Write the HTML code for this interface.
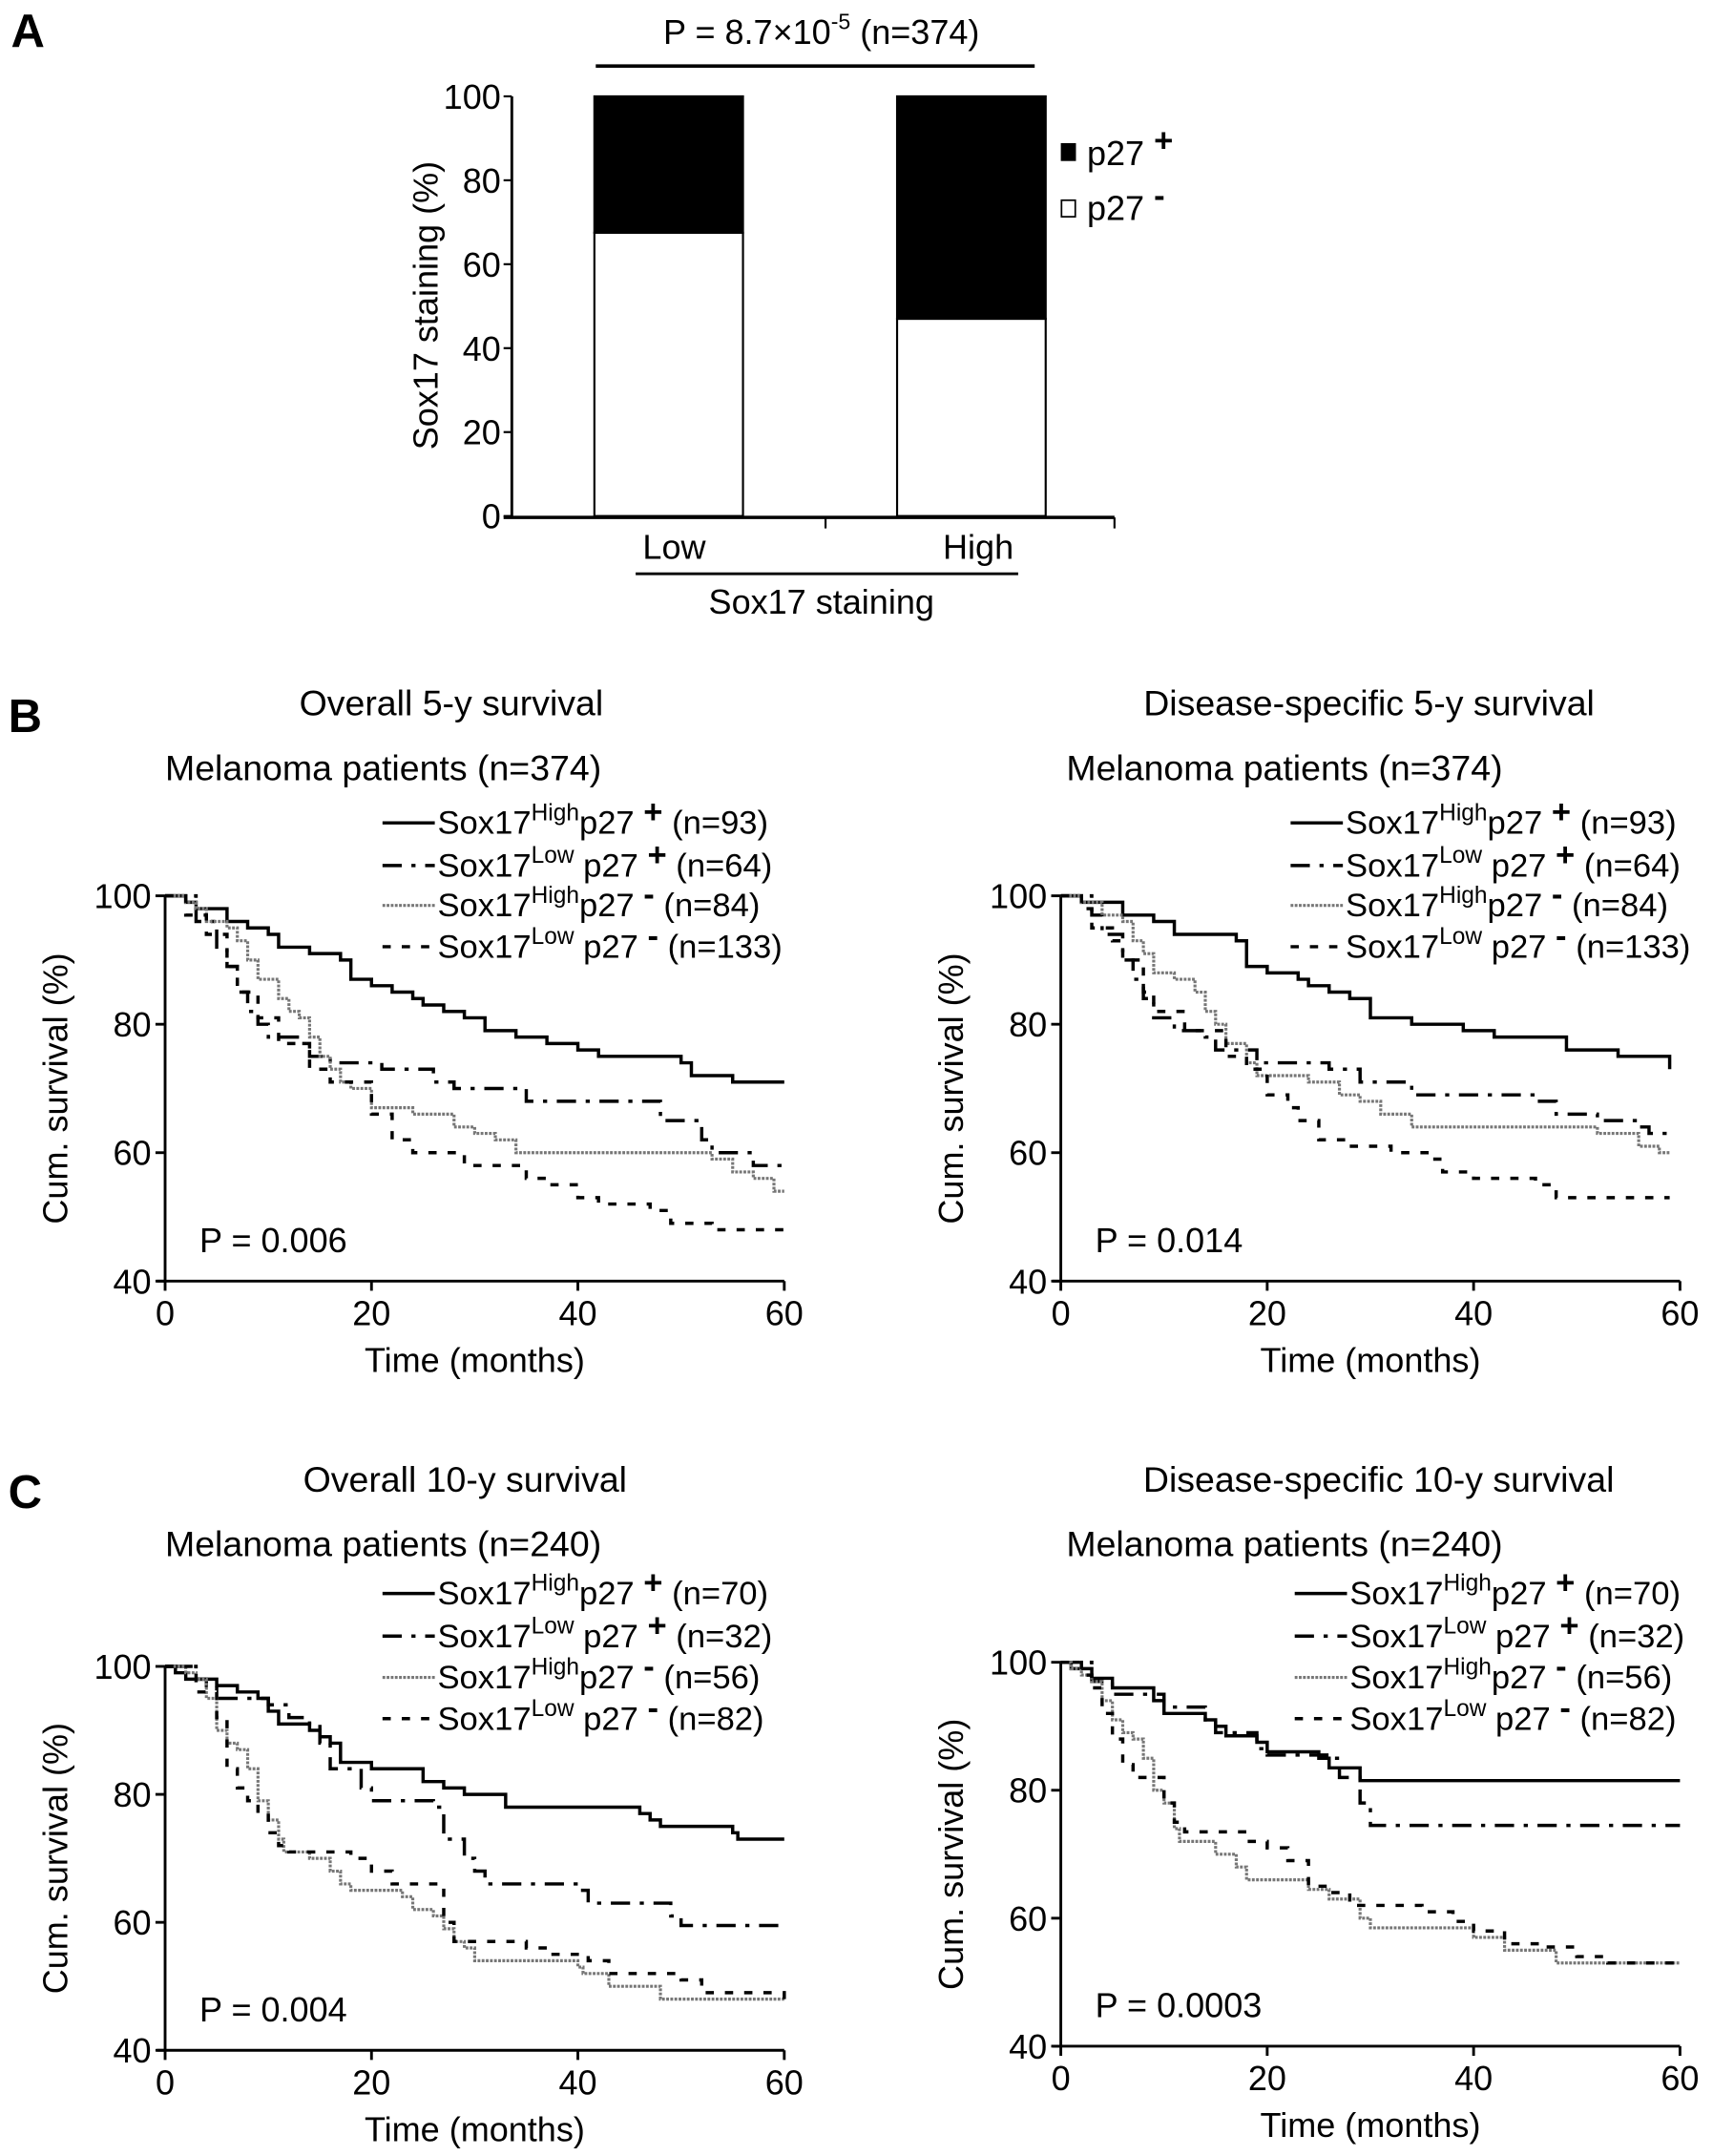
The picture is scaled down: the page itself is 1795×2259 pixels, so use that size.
<!DOCTYPE html>
<html><head><meta charset="utf-8"><style>
html,body{margin:0;padding:0;background:#fff}
svg{display:block;font-family:"Liberation Sans",Arial,sans-serif}
</style></head><body>
<svg id="fig" xmlns="http://www.w3.org/2000/svg" width="1795" height="2259" viewBox="0 0 1245 1566.8">
<rect width="1245" height="1566.8" fill="#fff"/>
</svg>
<script>
// Panel A data
const barCategories = ["Low", "High"];
const p27NegValues = [67.5, 47];
const p27PosValues = [32.5, 53];
const barTicks = [0, 20, 40, 60, 80, 100];

// Kaplan-Meier data: [time, survival]
const bL_highPos = [[0,100],[2,99],[3,98],[6,96],[8,95],[10,94],[11,92],[14,91],[17,90],[18,87],[20,86],[22,85],[24,84],[25,83],[27,82],[29,81],[31,79],[34,78],[37,77],[40,76],[42,75],[50,74],[51,72],[55,71],[60,71]];
const bL_lowPos = [[0,100],[3,96],[5,92],[6,89],[7,85],[8,82],[9,80],[10,78],[13,77],[14,75],[16,74],[20,74],[21,73],[26,71],[28,70],[35,68],[46,68],[48,65],[52,62],[53,60],[57,58],[60,58]];
const bL_highNeg = [[0,100],[2,99],[3,98],[4,96],[6,95],[7,93],[8,90],[9,87],[11,84],[12,82],[13,81],[14,78],[15,75],[16,73],[17,71],[18,70],[20,67],[24,66],[28,64],[30,63],[32,62],[34,60],[53,59],[55,57],[57,56],[59,54],[60,54]];
const bL_lowNeg = [[0,100],[2,97],[4,94],[6,89],[7,85],[9,81],[11,77],[14,73],[16,71],[20,66],[22,62],[24,60],[29,58],[35,56],[37,55],[40,53],[42,52],[47,51],[49,49],[53,48],[60,48]];

const bR_highPos = [[0,100],[2,99],[6,97],[9,96],[11,94],[17,93],[18,89],[20,88],[23,87],[24,86],[26,85],[28,84],[30,81],[34,80],[39,79],[42,78],[49,76],[54,75],[59,73]];
const bR_lowPos = [[0,100],[3,97],[4,94],[6,90],[7,87],[8,84],[9,81],[11,79],[14,78],[15,76],[19,74],[26,73],[29,71],[34,69],[46,68],[48,66],[52,65],[56,64],[57,63],[59,63]];
const bR_highNeg = [[0,100],[2,99],[4,97],[6,96],[7,93],[8,91],[9,88],[11,87],[13,85],[14,82],[15,80],[16,77],[18,74],[19,72],[24,71],[27,69],[29,68],[31,66],[34,64],[52,63],[56,61],[58,60],[59,60]];
const bR_lowNeg = [[0,100],[2,98],[3,95],[5,93],[6,90],[8,85],[9,82],[12,79],[16,75],[18,73],[20,69],[22,67],[23,65],[25,62],[28,61],[32,60],[36,59],[37,57],[40,56],[46,55],[48,53],[59,53]];

const cL_highPos = [[0,100],[1,99],[2,98],[5,97],[7,96],[9,95],[10,93],[11,91],[14,90],[15,89],[16,88],[17,85],[20,84],[25,82],[27,81],[29,80],[33,78],[46,77],[47,76],[48,75],[55,74],[55.5,73],[60,73]];
const cL_lowPos = [[0,100],[3,98],[4,97],[5,95],[10,94],[12,92],[14,91],[15,88],[16,84],[19,81],[20,79],[26,78],[27,73],[29,70],[30,68],[31,66],[40,65],[41,63],[49,61],[50,59.5],[60,59.5]];
const cL_highNeg = [[0,100],[2,99],[3,98],[4,95],[5,90],[6,88],[7,87],[8,84],[9,79],[10,76],[11,73],[11.5,71],[14,70],[16,68],[17,66],[18,65],[23,64],[24,62],[26,61],[27,59],[28,57],[29,56],[30,54],[40,53],[40.5,52],[43,50],[48,48],[60,48]];
const cL_lowNeg = [[0,100],[3,96],[5,92],[6,84],[7,81],[8,79],[9,77],[10,74],[11,72],[12,71],[18,70],[20,68],[22,66],[27,60],[28,57],[35,56],[37,55],[41,54],[43,52],[50,51],[52,49],[60,48]];

const cR_highPos = [[0,100],[1,99],[3,97.5],[5,96],[9,94],[10,92],[14,91],[15,90],[16,88.5],[19,87.5],[20,86],[25,85],[26,83.5],[29,81.5],[60,81.5]];
const cR_lowPos = [[0,100],[3,97],[5,95],[10,93],[14,91],[15,89],[19,86.5],[20,85.5],[26,85],[27,82],[29,78],[30,74.5],[60,74.5]];
const cR_highNeg = [[0,100],[1,99],[2,98],[3,97],[4,94],[5,91],[6,89],[7,88],[8,85],[9,80],[10,78],[11,74],[11.5,72],[15,70],[17,68],[18,66],[24,64.5],[26,63],[29,60],[30,58.5],[40,57],[43,55],[48,53],[60,53]];
const cR_lowNeg = [[0,100],[2,98],[3,96],[4,92],[5,88],[6,84],[7,82],[10,78],[11,75],[12,73.5],[18,72],[20,71],[22,69],[24,65],[26,64],[28,62],[35,61],[38,59.5],[40,58],[43,56],[47,55.5],[50,54],[53,53],[60,53]];

const kmXTicks = [0, 20, 40, 60];
const kmYTicks = [40, 60, 80, 100];

const NS = "http://www.w3.org/2000/svg";
const svg = document.getElementById("fig");
function el(tag, attrs, parent, text) {
  const e = document.createElementNS(NS, tag);
  for (const k in attrs) e.setAttribute(k, attrs[k]);
  if (text !== undefined) e.textContent = text;
  (parent || svg).appendChild(e);
  return e;
}

// ---------- Panel A ----------
const gA = el("g", {});


const aY = v => 375 - v * (375 - 70) / 100;
const aCenters = [486, 706];
let t = el("text", {x: 8, y: 34, "font-size": 34, "font-weight": "bold"}, gA, "A");


t = el("text", {x: 597, y: 32, "font-size": 25, "text-anchor": "middle"}, gA);


t.innerHTML = 'P = 8.7×10<tspan font-size="16" dy="-11">-5</tspan><tspan dy="11"> (n=374)</tspan>';
let ln = el("line", {x1: 433, x2: 752, y1: 48, y2: 48, stroke: "#000", "stroke-width": 2.5}, gA);


ln = el("line", {x1: 372, x2: 372, y1: 70, y2: 376, stroke: "#000", "stroke-width": 2}, gA);


ln = el("line", {x1: 366, x2: 810, y1: 376, y2: 376, stroke: "#000", "stroke-width": 2.5}, gA);


[600, 810].forEach(x => el("line", {x1: x, x2: x, y1: 376, y2: 384, stroke: "#000", "stroke-width": 1.5}, gA));
barTicks.forEach(v => {
  el("line", {x1: 366, x2: 372, y1: aY(v), y2: aY(v), stroke: "#000", "stroke-width": 1.5}, gA);
  const tk = el("text", {x: 364, y: aY(v) + 9, "font-size": 25, "text-anchor": "end"}, gA, String(v));
  
  
});
barCategories.forEach((c, i) => {
  const cx = aCenters[i];
  const r1 = el("rect", {x: cx - 54, y: aY(p27NegValues[i]), width: 108, height: aY(0) - aY(p27NegValues[i]), fill: "#fff", stroke: "#000", "stroke-width": 1.5}, gA);
  
  
  const r2 = el("rect", {x: cx - 54, y: aY(p27NegValues[i] + p27PosValues[i]), width: 108, height: aY(p27NegValues[i]) - aY(p27NegValues[i] + p27PosValues[i]), fill: "#000", stroke: "#000", "stroke-width": 1.5}, gA);
  
  
  const lb = el("text", {x: cx + (i === 0 ? 4 : 5), y: 406, "font-size": 25, "text-anchor": "middle"}, gA, c);
  
  
});
el("line", {x1: 462, x2: 740, y1: 417, y2: 417, stroke: "#000", "stroke-width": 2}, gA);
t = el("text", {x: 597, y: 446, "font-size": 25, "text-anchor": "middle"}, gA, "Sox17  staining");


t = el("text", {x: 0, y: 0, "font-size": 25, "text-anchor": "middle", transform: "translate(318,222) rotate(-90)"}, gA, "Sox17 staining (%)");


let lg = el("g", {}, gA);


el("rect", {x: 771, y: 104, width: 11, height: 13, fill: "#000"}, lg);
el("text", {x: 790, y: 120, "font-size": 25}, lg).innerHTML = 'p27 <tspan font-size="24" dy="-10" font-weight="bold">+</tspan>';
lg = el("g", {}, gA);


el("rect", {x: 771.5, y: 145.5, width: 10, height: 12, fill: "#fff", stroke: "#000", "stroke-width": 1.2}, lg);
el("text", {x: 790, y: 160, "font-size": 25}, lg).innerHTML = 'p27 <tspan font-size="24" dy="-10" font-weight="bold">-</tspan>';

// ---------- KM panels ----------
const styles = [
  {stroke: "#000", w: 2.4, dash: ""},
  {stroke: "#000", w: 2.4, dash: "14,7,3,7"},
  {stroke: "#777", w: 2.2, dash: "2,1"},
  {stroke: "#000", w: 2.4, dash: "6,8"}
];
const sNames = ["sox17-high-p27-pos", "sox17-low-p27-pos", "sox17-high-p27-neg", "sox17-low-p27-neg"];
const sup = ["High", "Low", "High", "Low"];
const sgn = ["+", "+", "-", "-"];

function kmPanel(cfg) {
  const g = el("g", {});
  
  
  const X = tm => cfg.x0 + tm / 60 * (cfg.x1 - cfg.x0);
  const Y = v => cfg.yb - (v - 40) / 60 * (cfg.yb - cfg.yt);
  if (cfg.label) {
    const pl = el("text", {x: 6, y: cfg.ty + 12, "font-size": 34, "font-weight": "bold"}, g, cfg.label);
    
    
  }
  let tt = el("text", {x: cfg.tcx, y: cfg.ty, "font-size": 26, "text-anchor": "middle"}, g, cfg.title);
  
  
  tt = el("text", {x: cfg.sx, y: cfg.ty + 47, "font-size": 26}, g, "Melanoma patients (" + cfg.n + ")");
  
  
  // axes
  el("line", {x1: cfg.x0, x2: cfg.x0, y1: cfg.yt, y2: cfg.yb, stroke: "#000", "stroke-width": 2}, g);
  el("line", {x1: cfg.x0 - 6, x2: cfg.x1, y1: cfg.yb, y2: cfg.yb, stroke: "#000", "stroke-width": 2}, g);
  kmYTicks.forEach(v => {
    el("line", {x1: cfg.x0 - 7, x2: cfg.x0, y1: Y(v), y2: Y(v), stroke: "#000", "stroke-width": 2}, g);
    const tk = el("text", {x: cfg.x0 - 10, y: Y(v) + 9, "font-size": 25, "text-anchor": "end"}, g, String(v));
    
    
  });
  kmXTicks.forEach(v => {
    el("line", {x1: X(v), x2: X(v), y1: cfg.yb, y2: cfg.yb + 7, stroke: "#000", "stroke-width": 2}, g);
    const tk = el("text", {x: X(v), y: cfg.yb + 32, "font-size": 25, "text-anchor": "middle"}, g, String(v));
    
    
  });
  tt = el("text", {x: (cfg.x0 + cfg.x1) / 2 + 0, y: cfg.yb + 66, "font-size": 25, "text-anchor": "middle"}, g, "Time (months)");
  
  
  tt = el("text", {x: 0, y: 0, "font-size": 25, "text-anchor": "middle", transform: "translate(" + (cfg.x0 - 71) + "," + ((cfg.yt + cfg.yb) / 2) + ") rotate(-90)"}, g, "Cum. survival (%)");
  
  
  tt = el("text", {x: cfg.x0 + 25, y: cfg.yb - 21, "font-size": 25}, g, "P = " + cfg.p);
  
  
  // curves
  cfg.series.forEach((data, i) => {
    let d = "M" + X(data[0][0]) + "," + Y(data[0][1]);
    for (let k = 1; k < data.length; k++) {
      d += " H" + X(data[k][0]) + " V" + Y(data[k][1]);
    }
    const p = el("path", {d: d, fill: "none", stroke: styles[i].stroke, "stroke-width": styles[i].w, "stroke-dasharray": styles[i].dash}, g);
    
    
  });
  // legend
  cfg.counts.forEach((c, i) => {
    const ly = cfg.ly[i];
    const lgE = el("g", {}, g);
    
    
    el("line", {x1: cfg.lx, x2: cfg.lx + 38, y1: ly - 8, y2: ly - 8, stroke: styles[i].stroke, "stroke-width": styles[i].w, "stroke-dasharray": styles[i].dash}, lgE);
    const tx = el("text", {x: cfg.lx + 40, y: ly, "font-size": 24}, lgE);
    tx.innerHTML = 'Sox17<tspan font-size="17" dy="-10">' + sup[i] + '</tspan><tspan dy="10">' + (sup[i] === "Low" ? " " : "") + 'p27</tspan><tspan font-size="24" font-weight="bold" dy="-8"> ' + sgn[i] + '</tspan><tspan dy="8"> (n=' + c + ')</tspan>';
  });
}

kmPanel({name: "panel-b-overall-5y", label: "B", title: "Overall 5-y survival", tcx: 328, sx: 120, ty: 520, n: "n=374",
  x0: 120, x1: 570, yt: 651, yb: 931, lx: 278, ly: [606, 637, 666, 696], p: "0.006", counts: [93, 64, 84, 133],
  series: [bL_highPos, bL_lowPos, bL_highNeg, bL_lowNeg]});
kmPanel({name: "panel-b-disease-specific-5y", label: "", title: "Disease-specific 5-y survival", tcx: 995, sx: 775, ty: 520, n: "n=374",
  x0: 771, x1: 1221, yt: 651, yb: 931, lx: 938, ly: [606, 637, 666, 696], p: "0.014", counts: [93, 64, 84, 133],
  series: [bR_highPos, bR_lowPos, bR_highNeg, bR_lowNeg]});
kmPanel({name: "panel-c-overall-10y", label: "C", title: "Overall 10-y survival", tcx: 338, sx: 120, ty: 1084, n: "n=240",
  x0: 120, x1: 570, yt: 1211, yb: 1490, lx: 278, ly: [1166, 1197, 1227, 1257], p: "0.004", counts: [70, 32, 56, 82],
  series: [cL_highPos, cL_lowPos, cL_highNeg, cL_lowNeg]});
kmPanel({name: "panel-c-disease-specific-10y", label: "", title: "Disease-specific 10-y survival", tcx: 1002, sx: 775, ty: 1084, n: "n=240",
  x0: 771, x1: 1221, yt: 1208, yb: 1487, lx: 941, ly: [1166, 1197, 1227, 1257], p: "0.0003", counts: [70, 32, 56, 82],
  series: [cR_highPos, cR_lowPos, cR_highNeg, cR_lowNeg]});
</script>
</body></html>
